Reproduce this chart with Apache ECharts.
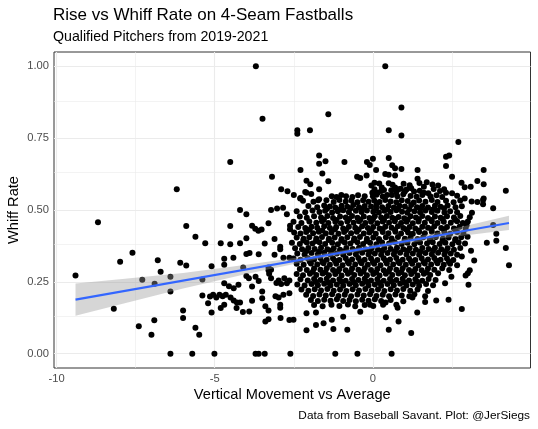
<!DOCTYPE html>
<html>
<head>
<meta charset="utf-8">
<script src="https://cdn.jsdelivr.net/npm/echarts@6/dist/echarts.min.js"></script>
<style>
  html, body { margin: 0; padding: 0; background: #fff; }
  #chart { width: 538px; height: 429px; }
</style>
</head>
<body>
<div id="chart"></div>
<script>
// axis breaks (ggplot style: major + minor)
const xTicks = [-10, -5, 0]
const xMinor = [-7.5, -2.5, 2.5]
const yTicks = [0, 0.25, 0.5, 0.75, 1]
const yMinor = [0.125, 0.375, 0.625, 0.875]

// pitchers, [vertical movement vs avg, whiff rate]
const sparseLeft = [
  [-9.40,.272],[-8.69,.457],[-8.19,.156],[-7.99,.320],[-7.60,.351],[-7.40,.095],[-7.29,.257],[-7.00,.066],[-6.91,.116],[-6.90,.243],
  [-6.80,.325],[-6.71,.285],[-6.40,.268],[-6.40,.216],[-6.20,.572],[-6.09,.316],[-6.00,.150],[-6.00,.124],[-5.90,.444],[-5.90,.307],
  [-5.61,.407],[-5.61,.090],[-5.49,.066],[-5.39,.258],[-5.39,.202],[-5.30,.384],[-5.21,.175],[-5.15,.199],[-5.10,.304],[-5.10,.143],
  [-5.05,.205],[-4.95,.195],[-4.85,.205],[-4.81,.384],[-4.81,.159],[-4.75,.200],[-4.70,.330],[-4.70,.309],[-4.70,.245],[-4.70,.170],
  [-4.65,.205],[-4.55,.235],[-4.51,.667],[-4.51,.444],[-4.51,.381],[-4.50,.195],[-4.41,.334],[-4.40,.228],[-4.40,.185],[-4.31,.159],
  [-4.30,.178],[-4.25,.240],[-4.20,.500],[-4.20,.384],[-4.20,.178],[-4.11,.145],[-4.10,.300],[-4.00,.485],[-4.00,.402],[-4.00,.347],
  [-4.00,.270],[-3.92,.262],[-3.91,.147],[-3.90,.350],[-3.82,.445],[-3.82,.234],[-3.82,.184],[-3.70,1.0],[-3.72,.435],[-3.71,.268],
  [-3.62,.428],[-3.61,.346],[-3.61,.253],[-3.52,.432],[-3.49,.818],[-3.50,.216],[-3.50,.193],[-3.42,.383],[-3.40,.165],[-3.40,.112],
  [-3.30,.454],[-3.30,.300],[-3.30,.290],[-3.30,.150],[-3.30,.120],[-3.28,.278],[-3.22,.500],[-3.22,.292],[-3.22,.262],[-3.19,.616],
  [-3.11,.399],[-3.11,.344],[-3.08,.200],[-3.05,.246],[-3.03,.505],[-2.98,.255],[-2.98,.195],[-2.93,.372],[-2.93,.363],[-2.93,.170],
  [-2.93,.160],[-2.92,.124],[-2.90,.572],[-2.90,.242],[-2.84,.508],[-2.83,.334],[-2.83,.205],[-2.80,.262],[-2.72,.485],[-2.72,.245],
  [-2.70,.565],[-2.64,.334],[-2.64,.255],[-2.64,.210],[-2.64,.117],[-2.62,.445],[-2.62,.433]
]

const zeroPts = [
  [-6.40,0],[-5.71,0],[-5.01,0],[-3.71,0],[-3.61,0],[-3.42,0],[-2.61,0],[-1.19,0],[-0.49,0],[0.59,0]
]

const upperPts = [
  [-2.39,.778],[-2.39,.765],[-1.99,.778],[-1.41,.833],[-1.70,.690],[-1.70,.661],[-1.50,.670],[-0.90,.667],[-0.19,.667],[-0.10,.657],
  [0.0,.678],[-2.29,.639],[-1.60,.627],[-2.10,.602],[-1.98,.590],[-1.41,.600],[-0.50,.616],[-0.40,.611],[-0.20,.620],[-2.10,.560],
  [-1.70,.572],[-2.29,.542],[-1.70,.537],[-1.30,.548],[-1.15,.545],[-1.00,.552],[-0.85,.548],[-0.65,.545],[-0.05,.585],[-0.02,.560],
  [0.05,.595],[0.39,1.0],[0.90,.857],[0.50,.778],[0.90,.759],[2.70,.737],[0.50,.681],[0.61,.656],[0.70,.645],[0.90,.643],
  [0.10,.639],[0.39,.625],[0.50,.623],[0.70,.620],[1.41,.639],[1.41,.609],[2.31,.685],[2.41,.690],[2.31,.653],[2.50,.616],
  [3.50,.639],[2.80,.595],[2.90,.579],[3.09,.581],[3.30,.601],[3.50,.590],[4.20,.567],[0.50,.593],[0.70,.578],[0.80,.572],
  [1.21,.576],[1.30,.564],[1.61,.581],[1.70,.597],[1.61,.560],[1.75,.558],[2.25,.572],[2.31,.560],[2.50,.558],[2.90,.540],
  [3.50,.540],[1.01,.564],[0.0,.548],[0.15,.560],[0.35,.570],[0.45,.552],[-2.14,.563],[-2.30,.540],[-1.73,.534]
]

const rightPts = [
  [3.30,.528],[3.48,.535],[3.48,.520],[3.80,.506],[3.13,.490],[3.06,.475],[3.00,.460],[2.96,.447],[2.93,.435],[3.80,.448],
  [3.90,.417],[3.90,.393],[3.60,.386],[4.20,.368],[4.30,.308],[3.10,.358],[3.20,.324],[2.81,.338],[3.06,.290],[3.00,.280],
  [2.93,.272],[3.02,.240],[2.81,.155],[2.99,.407]
]

const edgePts = [
  [-2.10,.081],[-1.80,.100],[-1.56,.106],[-1.25,.086],[-0.81,.083],[-1.80,.143],[-2.10,.141],[-2.51,.118],[-1.30,.118],[-0.94,.128],
  [-0.40,.146],[-0.09,.170],[0.41,.127],[0.81,.112],[0.50,.083],[1.21,.072],[1.40,.143],[2.00,.185],[2.39,.188],[1.65,.200],
  [1.65,.180],[1.15,.200],[1.25,.195],[0.74,.170],[0.78,.160],[0.32,.170],[0.40,.178],[2.28,.245],[2.48,.268],[2.06,.280]
]

// the solid middle of the cloud, row by row
const coreHigh = [
  [0.2,.592],[0.62,.588],[0.97,.591],[1.16,.586],[1.47,.594],[1.88,.589],[2.06,.585],[0.28,.578],
  [0.05,.572],[0.26,.566],[0.58,.569],[0.88,.574],[1.06,.571],[1.48,.567],[1.92,.573],[2.12,.566],[0.74,.562],
  [-0.47,.551],[-0.26,.548],[0.11,.553],[0.31,.547],[0.6,.552],[0.77,.548],[0.96,.555],[1.19,.549],[1.38,.546],[1.56,.552],
  [1.82,.547],[2.01,.551],[2.19,.545],[2.66,.55],[-1.95,.556],[-2.5,.552],
  [-2.21,.532],[-1.88,.529],[-1.47,.534],[-1.24,.528],[-1.06,.535],[-0.86,.53],[-0.68,.533],[-0.49,.527],[-0.31,.534],[-0.14,.529],
  [0.04,.533],[0.21,.528],[0.39,.535],[0.56,.53],[0.74,.527],[0.91,.534],[1.1,.531],[1.29,.526],[1.46,.533],[1.66,.529],
  [1.86,.535],[2.04,.528],[2.31,.532],[2.55,.527],[2.76,.533],[3.12,.53],
  [-2.04,.514],[-1.76,.51],[-1.54,.516],[-1.36,.512],[-1.19,.509],[-0.99,.515],[-0.81,.511],[-0.62,.517],[-0.44,.51],[-0.26,.514],
  [-0.06,.512],[0.11,.517],[0.29,.51],[0.49,.514],[0.66,.509],[0.84,.515],[1.01,.512],[1.21,.517],[1.39,.51],[1.56,.514],
  [1.74,.509],[1.96,.515],[2.14,.511],[2.36,.516],[2.61,.51],[2.81,.513],
  [-2.41,.496],[-2.14,.492],[-1.91,.498],[-1.69,.493],[-1.51,.497],[-1.29,.491],[-1.11,.496],[-0.94,.499],[-0.76,.492],[-0.54,.497],
  [-0.36,.493],[-0.19,.498],[0.01,.494],[0.19,.491],[0.36,.497],[0.56,.493],[0.74,.499],[0.92,.494],[1.09,.49],[1.31,.496],
  [1.49,.492],[1.66,.498],[1.86,.493],[2.04,.497],[2.26,.491],[2.44,.496],[2.66,.492],
  [-2.31,.477],[-2.09,.473],[-1.86,.478],[-1.64,.474],[-1.44,.479],[-1.26,.472],[-1.04,.477],[-0.86,.474],[-0.66,.479],[-0.49,.473],
  [-0.29,.477],[-0.11,.472],[0.06,.478],[0.26,.474],[0.44,.479],[0.61,.473],[0.81,.476],[0.99,.471],[1.19,.478],[1.36,.474],
  [1.56,.479],[1.74,.472],[1.96,.477],[2.14,.473],[2.34,.478],[2.56,.474],[2.76,.479],
  [-2.51,.459],[-2.26,.455],[-2.01,.46],[-1.79,.456],[-1.61,.461],[-1.41,.455],[-1.19,.459],[-1.01,.454],[-0.81,.46],[-0.61,.456],
  [-0.44,.461],[-0.24,.455],[-0.06,.459],[0.14,.454],[0.31,.46],[0.51,.456],[0.69,.461],[0.89,.455],[1.06,.459],[1.26,.454],
  [1.44,.46],[1.64,.456],[1.86,.461],[2.04,.455],[2.24,.459],[2.46,.456],[2.66,.461],[2.84,.455]
]

const coreMid = [
  [-2.36,.441],[-2.14,.437],[-1.94,.442],[-1.76,.438],[-1.54,.443],[-1.36,.437],[-1.16,.441],[-0.94,.436],[-0.76,.442],[-0.56,.438],
  [-0.34,.443],[-0.16,.437],[0.01,.441],[0.21,.436],[0.39,.442],[0.59,.438],[0.79,.443],[0.96,.437],[1.16,.441],[1.34,.436],
  [1.56,.442],[1.74,.438],[1.94,.443],[2.16,.437],[2.34,.441],[2.56,.436],[2.74,.442],
  [-2.49,.422],[-2.29,.418],[-2.11,.423],[-1.89,.419],[-1.71,.424],[-1.49,.418],[-1.31,.422],[-1.09,.417],[-0.91,.423],[-0.69,.419],
  [-0.51,.424],[-0.29,.418],[-0.11,.422],[0.09,.417],[0.31,.423],[0.49,.419],[0.71,.424],[0.89,.418],[1.11,.422],[1.26,.417],
  [1.46,.423],[1.64,.419],[1.86,.424],[2.04,.418],[2.26,.422],[2.44,.417],[2.66,.423],[2.86,.419],
  [-2.41,.404],[-2.19,.4],[-2.01,.405],[-1.79,.401],[-1.61,.406],[-1.39,.4],[-1.21,.404],[-0.99,.399],[-0.81,.405],[-0.59,.401],
  [-0.41,.406],[-0.19,.4],[0.01,.404],[0.19,.399],[0.41,.405],[0.59,.401],[0.79,.406],[1.01,.4],[1.19,.404],[1.41,.399],
  [1.59,.405],[1.81,.401],[1.99,.406],[2.21,.4],[2.39,.404],[2.61,.399],[2.79,.405],
  [-2.56,.386],[-2.31,.382],[-2.09,.387],[-1.91,.383],[-1.69,.388],[-1.51,.382],[-1.29,.386],[-1.11,.381],[-0.89,.387],[-0.71,.383],
  [-0.49,.388],[-0.31,.382],[-0.09,.386],[0.11,.381],[0.29,.387],[0.51,.383],[0.69,.388],[0.91,.382],[1.09,.386],[1.31,.381],
  [1.49,.387],[1.71,.383],[1.89,.388],[2.11,.382],[2.29,.386],[2.51,.381],[2.71,.387],[2.91,.383],
  [-2.46,.367],[-2.24,.363],[-2.04,.368],[-1.84,.364],[-1.64,.369],[-1.44,.363],[-1.24,.367],[-1.04,.362],[-0.84,.368],[-0.64,.364],
  [-0.44,.369],[-0.24,.363],[-0.04,.367],[0.16,.362],[0.36,.368],[0.56,.364],[0.76,.369],[0.96,.363],[1.16,.367],[1.36,.362],
  [1.56,.368],[1.76,.364],[1.96,.369],[2.16,.363],[2.36,.367],[2.56,.362],[2.76,.368],
  [-2.39,.349],[-2.16,.345],[-1.94,.35],[-1.74,.346],[-1.54,.351],[-1.34,.345],[-1.14,.349],[-0.94,.344],[-0.74,.35],[-0.54,.346],
  [-0.34,.351],[-0.14,.345],[0.06,.349],[0.26,.344],[0.46,.35],[0.66,.346],[0.86,.351],[1.06,.345],[1.26,.349],[1.46,.344],
  [1.66,.35],[1.86,.346],[2.06,.351],[2.26,.345],[2.46,.349],[2.66,.344],
  [-2.51,.331],[-2.29,.327],[-2.06,.332],[-1.86,.328],[-1.66,.333],[-1.46,.327],[-1.26,.331],[-1.06,.326],[-0.86,.332],[-0.66,.328],
  [-0.46,.333],[-0.26,.327],[-0.06,.331],[0.14,.326],[0.34,.332],[0.54,.328],[0.74,.333],[0.94,.327],[1.14,.331],[1.34,.326],
  [1.54,.332],[1.74,.328],[1.94,.333],[2.14,.327],[2.34,.331],[2.54,.326]
]

const coreLow = [
  [-2.41,.313],[-2.19,.309],[-1.96,.314],[-1.76,.31],[-1.56,.315],[-1.36,.309],[-1.16,.313],[-0.96,.308],[-0.76,.314],[-0.56,.31],
  [-0.36,.315],[-0.16,.309],[0.04,.313],[0.24,.308],[0.44,.314],[0.64,.31],[0.84,.315],[1.04,.309],[1.24,.313],[1.44,.308],
  [1.64,.314],[1.84,.31],[2.04,.315],[2.24,.309],[2.44,.313],[2.66,.308],
  [-2.31,.295],[-2.09,.291],[-1.86,.296],[-1.66,.292],[-1.46,.297],[-1.26,.291],[-1.06,.295],[-0.86,.29],[-0.66,.296],[-0.46,.292],
  [-0.26,.297],[-0.06,.291],[0.14,.295],[0.34,.29],[0.54,.296],[0.74,.292],[0.94,.297],[1.14,.291],[1.34,.295],[1.54,.29],
  [1.74,.296],[1.94,.292],[2.19,.297],[2.41,.291],
  [-2.41,.277],[-2.21,.273],[-1.99,.278],[-1.79,.274],[-1.59,.279],[-1.39,.273],[-1.19,.277],[-0.99,.272],[-0.79,.278],[-0.59,.274],
  [-0.39,.279],[-0.19,.273],[0.01,.277],[0.21,.272],[0.41,.278],[0.61,.274],[0.81,.279],[1.01,.273],[1.21,.277],[1.41,.272],
  [1.61,.278],[1.81,.274],
  [-2.29,.259],[-2.06,.255],[-1.86,.26],[-1.66,.256],[-1.46,.261],[-1.26,.255],[-1.06,.259],[-0.86,.254],[-0.66,.26],[-0.46,.256],
  [-0.26,.261],[-0.06,.255],[0.14,.259],[0.34,.254],[0.54,.26],[0.74,.256],[0.94,.261],[1.14,.255],[1.34,.259],[1.56,.254],
  [1.76,.26],[1.98,.256],
  [-2.39,.241],[-2.16,.237],[-1.94,.242],[-1.74,.238],[-1.54,.243],[-1.34,.237],[-1.14,.241],[-0.94,.236],[-0.74,.242],[-0.54,.238],
  [-0.34,.243],[-0.14,.237],[0.06,.241],[0.26,.236],[0.46,.242],[0.66,.238],[0.86,.243],[1.06,.237],[1.26,.241],[1.46,.236],
  [1.68,.242],[1.9,.238],
  [-2.26,.223],[-2.04,.219],[-1.84,.224],[-1.64,.22],[-1.44,.225],[-1.24,.219],[-1.04,.223],[-0.84,.218],[-0.64,.224],[-0.44,.22],
  [-0.24,.225],[-0.04,.219],[0.16,.223],[0.36,.218],[0.56,.224],[0.76,.22],[0.96,.225],[1.18,.219],[1.41,.223],[1.74,.218],
  [-2.11,.205],[-1.89,.201],[-1.69,.206],[-1.49,.202],[-1.29,.207],[-1.09,.201],[-0.89,.205],[-0.69,.2],[-0.49,.206],[-0.29,.202],
  [-0.09,.207],[0.11,.201],[0.31,.205],[0.51,.2],[0.71,.206],[0.91,.202],[1.31,.207],
  [-1.96,.187],[-1.74,.183],[-1.54,.188],[-1.34,.184],[-1.14,.189],[-0.94,.183],[-0.74,.187],[-0.54,.182],[-0.34,.188],[-0.14,.184],
  [0.06,.189],[0.26,.183],[0.56,.187],[0.96,.182],
  [-1.86,.169],[-1.59,.165],[-1.31,.17],[-1.06,.166],[-0.79,.171],[-0.56,.165],[-0.26,.169],[0.01,.166]
]

// extra pitchers sitting between the rows where the cloud is solid black
const fillPts = [
  [-1.45,.504],[-1.05,.502],[-0.7,.506],[-0.35,.503],[0.1,.505],[0.45,.502],[0.8,.506],[1.15,.503],[1.5,.505],[1.9,.502],[2.25,.506],
  [-1.55,.467],[-1.15,.465],[-0.75,.469],[-0.4,.466],[0.0,.468],[0.35,.465],[0.7,.469],[1.1,.466],[1.45,.468],[1.85,.465],[2.2,.469],[2.6,.466],
  [-2.0,.431],[-1.6,.429],[-1.2,.433],[-0.85,.43],[-0.45,.432],[-0.05,.429],[0.3,.433],[0.7,.43],[1.05,.432],[1.45,.429],[1.85,.433],[2.25,.43],[2.6,.432],
  [-2.2,.394],[-1.8,.392],[-1.4,.396],[-1.0,.393],[-0.6,.395],[-0.2,.392],[0.2,.396],[0.6,.393],[1.0,.395],[1.4,.392],[1.8,.396],[2.2,.393],[2.6,.395],
  [-2.1,.357],[-1.7,.355],[-1.3,.359],[-0.9,.356],[-0.5,.358],[-0.1,.355],[0.3,.359],[0.7,.356],[1.1,.358],[1.5,.355],[1.9,.359],[2.3,.356],
  [-2.0,.321],[-1.6,.319],[-1.2,.323],[-0.8,.32],[-0.4,.322],[0.0,.319],[0.4,.323],[0.8,.32],[1.2,.322],[1.6,.319],[2.0,.323],[2.4,.32],
  [-1.9,.285],[-1.5,.283],[-1.1,.287],[-0.7,.284],[-0.3,.286],[0.1,.283],[0.5,.287],[0.9,.284],[1.3,.286],[1.7,.283],
  [-1.8,.249],[-1.4,.247],[-1.0,.251],[-0.6,.248],[-0.2,.25],[0.2,.247],[0.6,.251],[1.0,.248],[1.4,.25]
]

// lm fit and its confidence band
const fitX = [-9.40, 4.30]
const fitY = [0.188, 0.455]
const bandX = [-9.4, -8, -6, -4, -2, 0, 2, 4.3]
const bandLow = [0.132, 0.171, 0.227, 0.277, 0.323, 0.365, 0.399, 0.430]
const bandHigh = [0.244, 0.259, 0.281, 0.309, 0.341, 0.377, 0.421, 0.480]

const FONT = '"Liberation Sans", Arial, Helvetica, sans-serif'

const points = [].concat(sparseLeft, zeroPts, upperPts, rightPts, edgePts, coreHigh, coreMid, coreLow, fillPts)

const gridLines = []
xMinor.forEach(v => gridLines.push({ xAxis: v, lineStyle: { width: 0.6 } }))
yMinor.forEach(v => gridLines.push({ yAxis: v, lineStyle: { width: 0.6 } }))
xTicks.forEach(v => gridLines.push({ xAxis: v, lineStyle: { width: 1.1 } }))
yTicks.forEach(v => gridLines.push({ yAxis: v, lineStyle: { width: 1.1 } }))

const myChart = echarts.init(document.getElementById('chart'), null, { renderer: 'canvas' })

myChart.setOption({
  animation: false,
  backgroundColor: '#fff',
  title: [
    {
      text: 'Rise vs Whiff Rate on 4-Seam Fastballs',
      left: 53, top: 7, padding: 0,
      textStyle: { fontFamily: FONT, fontSize: 17, fontWeight: 'normal', color: '#000' }
    },
    {
      text: 'Qualified Pitchers from 2019-2021',
      left: 53, top: 30, padding: 0,
      textStyle: { fontFamily: FONT, fontSize: 14.2, fontWeight: 'normal', color: '#000' }
    },
    {
      text: 'Data from Baseball Savant. Plot: @JerSiegs',
      right: 8, top: 410, padding: 0,
      textStyle: { fontFamily: FONT, fontSize: 11.8, fontWeight: 'normal', color: '#000' }
    }
  ],
  grid: {
    left: 54, right: 7.5, top: 52, bottom: 61,
    outerBoundsMode: 'none',
    containLabel: false,
    show: true, borderColor: '#333333', borderWidth: 1, backgroundColor: '#fff'
  },
  xAxis: {
    type: 'value',
    min: -10.08, max: 4.98,
    name: 'Vertical Movement vs Average',
    nameLocation: 'middle', nameGap: 19,
    nameMoveOverlap: false,
    nameTextStyle: { fontFamily: FONT, fontSize: 14.6, color: '#000' },
    axisLine: { show: false },
    axisTick: { show: true, customValues: xTicks, length: 3, lineStyle: { color: '#333333' } },
    axisLabel: { customValues: xTicks, margin: 5, fontFamily: FONT, fontSize: 11.2, color: '#4D4D4D' },
    splitLine: { show: false }
  },
  yAxis: {
    type: 'value',
    min: -0.05, max: 1.05,
    name: 'Whiff Rate',
    nameLocation: 'middle', nameGap: 33, nameRotate: 90,
    nameMoveOverlap: false,
    nameTextStyle: { fontFamily: FONT, fontSize: 14.6, color: '#000' },
    axisLine: { show: false },
    axisTick: { show: true, customValues: yTicks, length: 3, lineStyle: { color: '#333333' } },
    axisLabel: {
      customValues: yTicks, margin: 5, fontFamily: FONT, fontSize: 11.2, color: '#4D4D4D',
      formatter: v => v.toFixed(2)
    },
    splitLine: { show: false }
  },
  series: [
    {
      // panel grid lines, kept under the points
      type: 'scatter',
      data: [],
      z: 1,
      silent: true,
      markLine: {
        z: 1,
        silent: true,
        symbol: 'none',
        label: { show: false },
        animation: false,
        lineStyle: { color: '#EBEBEB', type: 'solid' },
        data: gridLines
      }
    },
    {
      type: 'scatter',
      data: points,
      z: 2,
      symbolSize: 6,
      itemStyle: { color: '#000', opacity: 1 },
      silent: true
    },
    {
      // confidence band
      type: 'custom',
      z: 3,
      silent: true,
      data: [[bandX[0], bandLow[0]]],
      renderItem: (params, api) => {
        const pts = []
        bandX.forEach((x, i) => pts.push(api.coord([x, bandHigh[i]])))
        for (let i = bandX.length - 1; i >= 0; i--) pts.push(api.coord([bandX[i], bandLow[i]]))
        return {
          type: 'polygon',
          shape: { points: pts },
          style: { fill: '#999999', opacity: 0.4 }
        }
      }
    },
    {
      type: 'line',
      z: 4,
      silent: true,
      showSymbol: false,
      data: fitX.map((x, i) => [x, fitY[i]]),
      lineStyle: { color: '#3366FF', width: 2.1 }
    }
  ]
})

window.addEventListener('resize', () => {
  myChart && myChart.resize()
})
</script>
</body>
</html>
